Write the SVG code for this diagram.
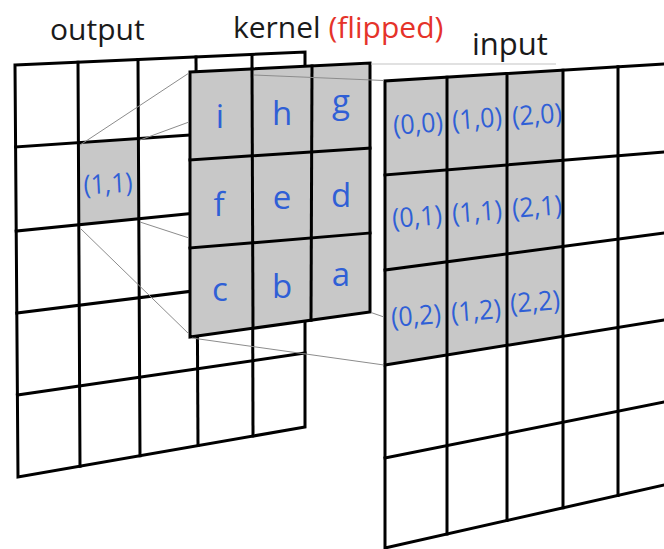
<svg xmlns="http://www.w3.org/2000/svg" width="664" height="549" viewBox="0 0 664 549">
<style>
.grid{fill:none;stroke:#000;stroke-width:3;stroke-linejoin:miter;stroke-linecap:square}
.gray{fill:#c8c8c8;stroke:none}
.title{font-family:"Open Sans","Noto Sans",sans-serif;font-size:30px;fill:#1a1a1a}
.red{fill:#e5332a}
.lbl{font-family:"Open Sans","Noto Sans",sans-serif;font-size:33px;fill:#2f5fd6;text-anchor:middle}
.coord{font-family:"Open Sans","Noto Sans",sans-serif;font-size:27px;fill:#2f5fd6;text-anchor:middle}
.thin{stroke:#8c8c8c;stroke-width:1;fill:none}
.faint{stroke:#c4c4c4;stroke-width:1.2;fill:none}
</style>
<rect width="664" height="549" fill="#fff"/>

<g id="titles">
<text class="title" x="50" y="40">output</text>
<text class="title" x="233" y="38">kernel <tspan class="red">(flipped)</tspan></text>
<text class="title" x="472" y="55" style="font-size:31px">input</text>
</g>

<g id="output">
<polygon class="gray" points="78,142.7 138,138.5 139,218 79,224"/>
<g class="grid">
<polygon points="15,65 305,52 305,427 18,477"/>
<line x1="78" y1="62.2" x2="80" y2="466.2"/>
<line x1="138" y1="59.5" x2="140" y2="455.7"/>
<line x1="196" y1="56.9" x2="198" y2="445.6"/>
<line x1="252" y1="54.4" x2="253" y2="436.1"/>
<line x1="15.6" y1="147" x2="305" y2="127"/>
<line x1="16.2" y1="231" x2="305" y2="202"/>
<line x1="16.8" y1="313" x2="305" y2="277"/>
<line x1="17.4" y1="395" x2="305" y2="353"/>
</g>
<text class="coord" x="108" y="193" textLength="49" lengthAdjust="spacingAndGlyphs" transform="rotate(-3 108 184)">(1,1)</text>
</g>

<g id="kernel">
<polygon class="gray" points="190,72 370,63 370,312 190,337"/>
<g class="grid">
<polygon points="190,72 370,63 370,312 190,337"/>
<line x1="252" y1="68.9" x2="253" y2="328.3"/>
<line x1="312" y1="65.9" x2="311" y2="320.2"/>
<line x1="190" y1="160" x2="370" y2="148"/>
<line x1="190" y1="248" x2="370" y2="233"/>
</g>
<text class="lbl" x="220" y="128">i</text>
<text class="lbl" x="282" y="125">h</text>
<text class="lbl" x="341" y="113">g</text>
<text class="lbl" x="219" y="216">f</text>
<text class="lbl" x="282" y="209">e</text>
<text class="lbl" x="341" y="207">d</text>
<text class="lbl" x="220" y="301">c</text>
<text class="lbl" x="282" y="298">b</text>
<text class="lbl" x="341" y="286">a</text>
</g>

<g id="input">
<polygon class="gray" points="385,81 563,70.2 563,336.3 385,365"/>
<g class="grid">
<polyline points="670,63.6 385,81 385,548 670,483.7"/>
<line x1="447" y1="77.2" x2="447" y2="534"/>
<line x1="507" y1="73.6" x2="507" y2="520.5"/>
<line x1="563" y1="70.2" x2="563" y2="507.8"/>
<line x1="618" y1="66.8" x2="618" y2="495.4"/>
<line x1="385" y1="175" x2="670" y2="151.5"/>
<line x1="385" y1="270" x2="670" y2="232.2"/>
<line x1="385" y1="365" x2="670" y2="319"/>
<line x1="385" y1="458" x2="670" y2="400.8"/>
</g>
<text class="coord" x="418" y="133" textLength="50" lengthAdjust="spacingAndGlyphs" transform="rotate(-4 418 124)">(0,0)</text>
<text class="coord" x="477" y="128" textLength="50" lengthAdjust="spacingAndGlyphs" transform="rotate(-4 477 119)">(1,0)</text>
<text class="coord" x="537" y="124" textLength="50" lengthAdjust="spacingAndGlyphs" transform="rotate(-4 537 115)">(2,0)</text>
<text class="coord" x="417" y="226" textLength="50" lengthAdjust="spacingAndGlyphs" transform="rotate(-4 417 217)">(0,1)</text>
<text class="coord" x="477" y="221" textLength="50" lengthAdjust="spacingAndGlyphs" transform="rotate(-4 477 212)">(1,1)</text>
<text class="coord" x="537" y="216" textLength="50" lengthAdjust="spacingAndGlyphs" transform="rotate(-4 537 207)">(2,1)</text>
<text class="coord" x="416" y="325" textLength="50" lengthAdjust="spacingAndGlyphs" transform="rotate(-4 416 316)">(0,2)</text>
<text class="coord" x="476" y="320" textLength="50" lengthAdjust="spacingAndGlyphs" transform="rotate(-4 476 311)">(1,2)</text>
<text class="coord" x="535" y="311" textLength="50" lengthAdjust="spacingAndGlyphs" transform="rotate(-4 535 302)">(2,2)</text>
</g>

<g id="connectors">
<line class="thin" x1="80" y1="145" x2="189" y2="73"/>
<line class="thin" x1="140" y1="140" x2="189" y2="122"/>
<line class="thin" x1="140" y1="222" x2="189" y2="238"/>
<line class="thin" x1="81" y1="229" x2="189" y2="334"/>
<line class="thin" x1="192" y1="338" x2="384" y2="365"/>
<line class="thin" x1="371" y1="312.5" x2="384" y2="317"/>
<line class="thin" x1="254" y1="75" x2="384" y2="80.5"/>
<line class="faint" x1="371" y1="64" x2="556" y2="64"/>
</g>
</svg>
